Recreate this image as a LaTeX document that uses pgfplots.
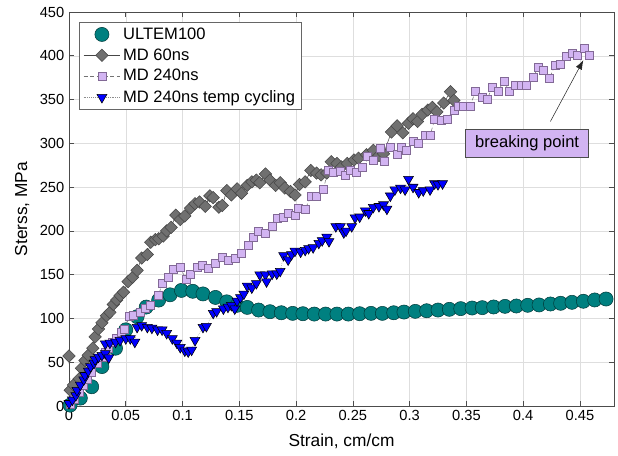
\documentclass[border=0pt]{standalone}
\usepackage{fontspec}
\setmainfont{Liberation Sans}
\usepackage{pgfplots}
\pgfplotsset{compat=1.18}
\usetikzlibrary{arrows.meta}
\definecolor{ultem}{RGB}{0,128,128}
\definecolor{ultemedge}{RGB}{0,60,60}
\definecolor{md60}{RGB}{112,112,112}
\definecolor{md60edge}{RGB}{70,70,70}
\definecolor{lav}{RGB}{210,180,242}
\definecolor{lavedge}{RGB}{130,105,150}
\definecolor{tcblue}{RGB}{0,0,255}

\begin{document}
\begin{tikzpicture}
\useasboundingbox (-51.75pt,-37.5pt) rectangle (411.75pt,304.5pt);
\begin{axis}[
    at={(0,0)}, anchor=south west,
    scale only axis,
    width=408.75pt, height=295.5pt,
    xmin=0, xmax=0.48, ymin=0, ymax=450,
    xtick={0,0.05,0.1,0.15,0.2,0.25,0.3,0.35,0.4,0.45},
    xticklabels={0,0.05,0.1,0.15,0.2,0.25,0.3,0.35,0.4,0.45},
    ytick={0,50,100,150,200,250,300,350,400,450},
    yticklabels={0,50,100,150,200,250,300,350,400,450},
    tick label style={font=\fontsize{11}{13}\selectfont},
    xlabel={Strain, cm/cm},
    ylabel={Sterss, MPa},
    label style={font=\fontsize{13}{15}\selectfont},
    xlabel style={at={(axis description cs:0.5,-0.089)}, anchor=center},
    ylabel style={at={(axis description cs:-0.086,0.5)}, anchor=center},
    grid=major,
    major grid style={black!13, line width=0.4pt},
    axis line style={black!70, line width=0.5pt},
    tick style={black!70, line width=0.5pt},
    major tick length=3.75pt,
    legend cell align=left,
    legend style={at={(0,1)}, anchor=north west, xshift=7.5pt, yshift=-7.5pt,
        draw=black!60, fill=white, line width=0.5pt,
        font=\fontsize{12.4}{14}\selectfont, row sep=1.5pt},
    legend image code/.code={\draw[mark repeat=2,mark phase=2,#1] plot coordinates {(0pt,0pt) (13.75pt,0pt) (27.5pt,0pt)};},
]
% ULTEM 100 test
\addplot[only marks, mark=*, mark size=5.3pt, mark options={fill=ultem, draw=ultemedge, line width=0.4pt}] coordinates {
(0.001,1) (0.010,9) (0.020,22) (0.029,45) (0.041,66) (0.050,87) (0.060,102) (0.068,113)
(0.079,121) (0.089,127) (0.099,132) (0.109,131) (0.118,128) (0.129,124) (0.139,119) (0.148,115)
(0.157,112.6) (0.167,109.6) (0.177,107.7) (0.187,106.5) (0.197,105.8) (0.206,105.4) (0.216,105)
(0.226,105) (0.236,105) (0.246,105) (0.256,105.4) (0.266,105.8) (0.276,105.8) (0.286,106.5)
(0.295,107.3) (0.305,108.1) (0.315,108.8) (0.325,109.6) (0.335,110.4) (0.345,111.2) (0.355,111.9)
(0.364,112.3) (0.374,113.1) (0.384,113.8) (0.394,114.2) (0.404,115) (0.414,115.4) (0.424,116.5)
(0.433,117.3) (0.443,118.4) (0.453,119.6) (0.463,121.1) (0.473,122.2)
};
\addlegendentry{ULTEM100}
% MD 60 ns
\addplot[draw=md60edge, line width=0.4pt, mark=square*, mark size=3.3pt,
    mark options={rotate=45, fill=md60, draw=md60edge, line width=0.4pt}] coordinates {
(0.000,57) (0.001,18) (0.004,24) (0.009,31) (0.011,43) (0.014,52) (0.017,58) (0.021,66)
(0.023,79) (0.026,88) (0.029,95) (0.033,103) (0.036,107) (0.039,116) (0.042,121) (0.045,126)
(0.048,130) (0.052,142) (0.056,147) (0.060,155) (0.064,169) (0.069,173) (0.072,187) (0.076,190)
(0.079,191) (0.083,194) (0.086,200) (0.090,204) (0.094,218) (0.098,213) (0.102,217) (0.107,226)
(0.111,231) (0.115,233) (0.120,228) (0.124,240) (0.127,238) (0.132,227) (0.135,229) (0.139,246)
(0.143,241) (0.148,248) (0.152,243) (0.157,252) (0.161,256) (0.165,258) (0.168,255) (0.173,265)
(0.177,258) (0.182,252) (0.186,255) (0.190,249) (0.195,245) (0.199,241) (0.203,253) (0.208,256)
(0.213,269) (0.218,266) (0.222,264) (0.227,266) (0.231,279) (0.236,277) (0.240,273) (0.245,277)
(0.251,281) (0.255,283) (0.262,287) (0.268,292) (0.273,286) (0.277,288) (0.284,313) (0.289,320)
(0.294,312) (0.299,323) (0.303,328) (0.307,325) (0.311,333) (0.316,338) (0.320,341) (0.324,336)
(0.330,346) (0.336,359) (0.339,349)
};
\addlegendentry{MD 60ns}
% MD 240 ns
\addplot[draw=black!55, line width=0.4pt, dash pattern=on 3pt off 2pt, mark=square*, mark size=3.0pt,
    mark options={solid, fill=lav, draw=lavedge, line width=0.4pt}] coordinates {
(0.001,2) (0.005,8) (0.009,16) (0.013,24) (0.016,31) (0.020,39) (0.025,49) (0.029,56)
(0.032,61) (0.035,66) (0.038,73) (0.042,77) (0.046,84) (0.049,88) (0.053,102) (0.057,104)
(0.063,107) (0.067,112) (0.072,115) (0.079,127) (0.082,140) (0.087,147) (0.092,156) (0.098,158)
(0.103,145) (0.107,150) (0.113,159) (0.117,161) (0.123,157) (0.129,163) (0.135,170) (0.140,166)
(0.146,169) (0.152,174) (0.158,184) (0.162,193) (0.167,199) (0.173,197) (0.179,205) (0.183,214)
(0.189,216) (0.193,220) (0.199,218) (0.202,226) (0.208,225) (0.213,239) (0.218,239) (0.224,247)
(0.228,269) (0.233,267) (0.239,268) (0.243,264) (0.248,269) (0.253,267) (0.258,273) (0.263,285)
(0.268,281) (0.274,294) (0.278,279) (0.283,296) (0.289,288) (0.293,295) (0.297,292) (0.303,302)
(0.308,300) (0.314,309) (0.318,309) (0.322,327) (0.328,326) (0.333,328) (0.339,338) (0.343,342)
(0.347,342) (0.353,342) (0.358,359) (0.364,353) (0.368,350) (0.373,364) (0.378,360) (0.383,371)
(0.388,359) (0.393,366) (0.398,366) (0.403,366) (0.409,375) (0.413,387) (0.418,383) (0.423,374)
(0.428,389) (0.433,390) (0.438,400) (0.443,403) (0.448,401) (0.454,409) (0.458,401)
};
\addlegendentry{MD 240ns}
% MD 240 ns with temperature cycling
\addplot[draw=black!45, line width=0.4pt, densely dotted, mark=triangle*, mark size=4.3pt,
    mark options={solid, rotate=180, fill=tcblue, draw=black, line width=0.4pt}] coordinates {
(0.000,3) (0.003,7) (0.006,12) (0.007,18) (0.010,24) (0.013,30) (0.014,35) (0.017,40)
(0.019,45) (0.022,49) (0.023,53) (0.026,56) (0.029,58) (0.032,60) (0.035,55) (0.032,71)
(0.036,72) (0.041,73) (0.045,75) (0.050,77) (0.054,77) (0.058,73) (0.060,90) (0.064,92)
(0.069,90) (0.073,89) (0.078,87) (0.082,87) (0.086,83) (0.091,77) (0.095,72) (0.098,67)
(0.102,63) (0.105,62) (0.108,64) (0.111,75) (0.118,90) (0.121,91) (0.127,106) (0.130,108)
(0.136,111) (0.140,113) (0.143,115) (0.146,111) (0.148,120) (0.151,124) (0.154,128) (0.157,137)
(0.161,135) (0.165,140) (0.168,150) (0.173,150) (0.174,142) (0.179,151) (0.183,151) (0.186,154)
(0.189,172) (0.193,167) (0.196,173) (0.199,177) (0.204,176) (0.208,178) (0.211,180) (0.215,181)
(0.220,186) (0.223,189) (0.227,193) (0.229,188) (0.235,205) (0.239,205) (0.242,198) (0.244,200)
(0.249,205) (0.252,215) (0.256,216) (0.261,223) (0.264,220) (0.268,227) (0.273,228) (0.277,230)
(0.280,225) (0.283,240) (0.287,247) (0.292,249) (0.296,247) (0.299,259) (0.303,250) (0.308,244)
(0.312,246) (0.318,247) (0.322,254) (0.325,253) (0.329,254)
};
\addlegendentry{MD 240ns temp cycling}
\node[draw=black!70, fill=lav, line width=0.5pt, minimum width=92pt, minimum height=20.5pt,
    font=\fontsize{12.4}{14}\selectfont] at (axis cs:0.4035,300) {breaking point};
\draw[black!85, line width=0.4pt, -{Latex[length=7pt,width=5pt]}] (axis cs:0.424,325) -- (axis cs:0.453,395);
\end{axis}
\end{tikzpicture}
\end{document}
